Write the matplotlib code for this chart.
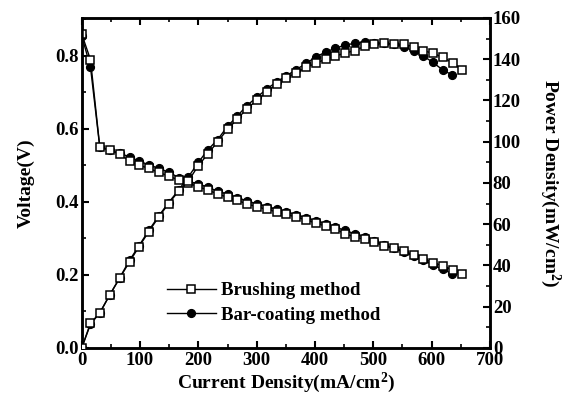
import matplotlib
matplotlib.use("Agg")
import matplotlib.pyplot as plt
from matplotlib.ticker import MultipleLocator

# ---- data ----
x_brush = [0, 15, 31, 48, 65, 82, 98, 115, 132, 149, 166, 183, 199, 216, 233, 250, 267, 283,
           300, 317, 334, 351, 368, 385, 401, 418, 435, 452, 468, 485, 502, 519, 535, 552,
           569, 586, 602, 619, 636, 652]
v_brush = [0.86, 0.79, 0.551, 0.542, 0.531, 0.512, 0.501, 0.492, 0.481, 0.471, 0.460, 0.452,
           0.442, 0.433, 0.422, 0.413, 0.404, 0.395, 0.387, 0.380, 0.373, 0.366, 0.358, 0.351,
           0.342, 0.334, 0.325, 0.313, 0.304, 0.298, 0.289, 0.280, 0.273, 0.266, 0.255, 0.244,
           0.234, 0.225, 0.214, 0.202]
p_brush = [0, 12, 17, 25.7, 33.8, 41.8, 49, 56.4, 63.5, 70, 76, 81, 88, 94, 100, 106, 111, 116,
           120, 124, 128, 131, 133.5, 136, 138, 140, 141.6, 143, 144.2, 146.2, 147.2, 147.7,
           147.4, 147.2, 146.1, 144.1, 142.9, 140.9, 138.3, 134.8]

x_bar = [0, 15, 31, 48, 65, 82, 98, 115, 132, 149, 166, 183, 200, 216, 233, 250, 267, 283,
         300, 317, 334, 351, 368, 385, 401, 418, 435, 452, 468, 485, 502, 519, 535, 552,
         569, 586, 602, 619, 635]
v_bar = [0.855, 0.77, 0.55, 0.542, 0.533, 0.524, 0.512, 0.502, 0.492, 0.482, 0.467, 0.456,
         0.450, 0.440, 0.430, 0.421, 0.412, 0.403, 0.395, 0.387, 0.380, 0.372, 0.364, 0.356,
         0.348, 0.340, 0.331, 0.322, 0.313, 0.303, 0.293, 0.283, 0.273, 0.263, 0.252, 0.240,
         0.228, 0.215, 0.204]
p_bar = [0, 11.5, 17, 25.7, 34, 42.5, 49.5, 57, 64, 70.5, 76.5, 83, 90, 96, 101, 107.5, 112.5,
         117.5, 121.5, 125.5, 129, 132, 135, 138, 141, 143.5, 145.3, 146.9, 147.7, 148.3, 148,
         147.7, 147.2, 146, 144, 141.5, 138.5, 134.8, 132.4]

x_ticks = [0, 100, 200, 300, 400, 500, 600, 700]
v_ticks = [0.0, 0.2, 0.4, 0.6, 0.8]
p_ticks = [0, 20, 40, 60, 80, 100, 120, 140, 160]

labels = ["Brushing method", "Bar-coating method"]

# ---- style ----
plt.rcParams['font.family'] = ['Liberation Serif', 'DejaVu Serif']
plt.rcParams['font.weight'] = 'bold'
plt.rcParams['mathtext.fontset'] = 'custom'
plt.rcParams['mathtext.rm'] = 'Liberation Serif:bold'
plt.rcParams['mathtext.it'] = 'Liberation Serif:bold'
plt.rcParams['mathtext.bf'] = 'Liberation Serif:bold'

fig = plt.figure(figsize=(5.71, 4.01), dpi=100)
ax = fig.add_axes([0.1431, 0.1322, 0.715, 0.823])
ax2 = ax.twinx()

ms = 5.6
# circles first (beneath), squares above
ln_bar_v, = ax.plot(x_bar, v_bar, '-', color='black', lw=1.0, marker='o', ms=ms,
                    mfc='black', mec='black', zorder=2)
ln_br_v, = ax.plot(x_brush, v_brush, '-', color='black', lw=1.0, marker='s', ms=ms,
                   mfc='white', mec='black', mew=1.1, zorder=3)
ax2.plot(x_bar, p_bar, '-', color='black', lw=1.0, marker='o', ms=ms,
         mfc='black', mec='black', zorder=2)
ax2.plot(x_brush, p_brush, '-', color='black', lw=1.0, marker='s', ms=ms,
         mfc='white', mec='black', mew=1.1, zorder=3)

ax.set_xlim(0, 700)
ax.set_ylim(0, 0.904)
ax2.set_ylim(0, 160)

ax.set_xticks(x_ticks)
ax.set_xticklabels([str(t) for t in x_ticks])
ax.set_yticks(v_ticks)
ax.set_yticklabels([f"{t:.1f}" for t in v_ticks])
ax2.set_yticks(p_ticks)
ax2.set_yticklabels([str(t) for t in p_ticks])
ax.xaxis.set_minor_locator(MultipleLocator(50))
ax.yaxis.set_minor_locator(MultipleLocator(0.1))
ax2.yaxis.set_minor_locator(MultipleLocator(10))

for a in (ax, ax2):
    for s in a.spines.values():
        s.set_linewidth(1.8)
ax.tick_params(which='both', direction='in', top=True, right=False, labelsize=13.5, width=1.5)
ax.tick_params(which='major', length=5)
ax.tick_params(which='minor', length=3, width=1.2)
ax2.tick_params(which='both', direction='in', labelsize=13.5, width=1.5, pad=2)
ax2.tick_params(which='major', length=5)
ax2.tick_params(which='minor', length=3, width=1.2)
ax.tick_params(axis='x', pad=3)
ax.tick_params(axis='y', pad=2)
for lab in ax.get_xticklabels() + ax.get_yticklabels() + ax2.get_yticklabels():
    lab.set_fontweight('bold')

ax.set_xlabel("Current Density(mA/cm$^2$)", fontsize=14, fontweight='bold', labelpad=1)
ax.set_ylabel("Voltage(V)", fontsize=14, fontweight='bold', labelpad=15)
ax2.set_ylabel("Power Density(mW/cm$^2$)", fontsize=14, fontweight='bold',
               rotation=270, labelpad=30)

leg = ax.legend([ln_br_v, ln_bar_v], labels, loc='upper left',
                bbox_to_anchor=(0.209, 0.20), frameon=False, borderpad=0, borderaxespad=0,
                handlelength=2.6, handletextpad=0.3, labelspacing=0.4,
                prop={'family': 'Liberation Serif', 'weight': 'bold', 'size': 13.5})

fig.savefig("out.png", dpi=100)
